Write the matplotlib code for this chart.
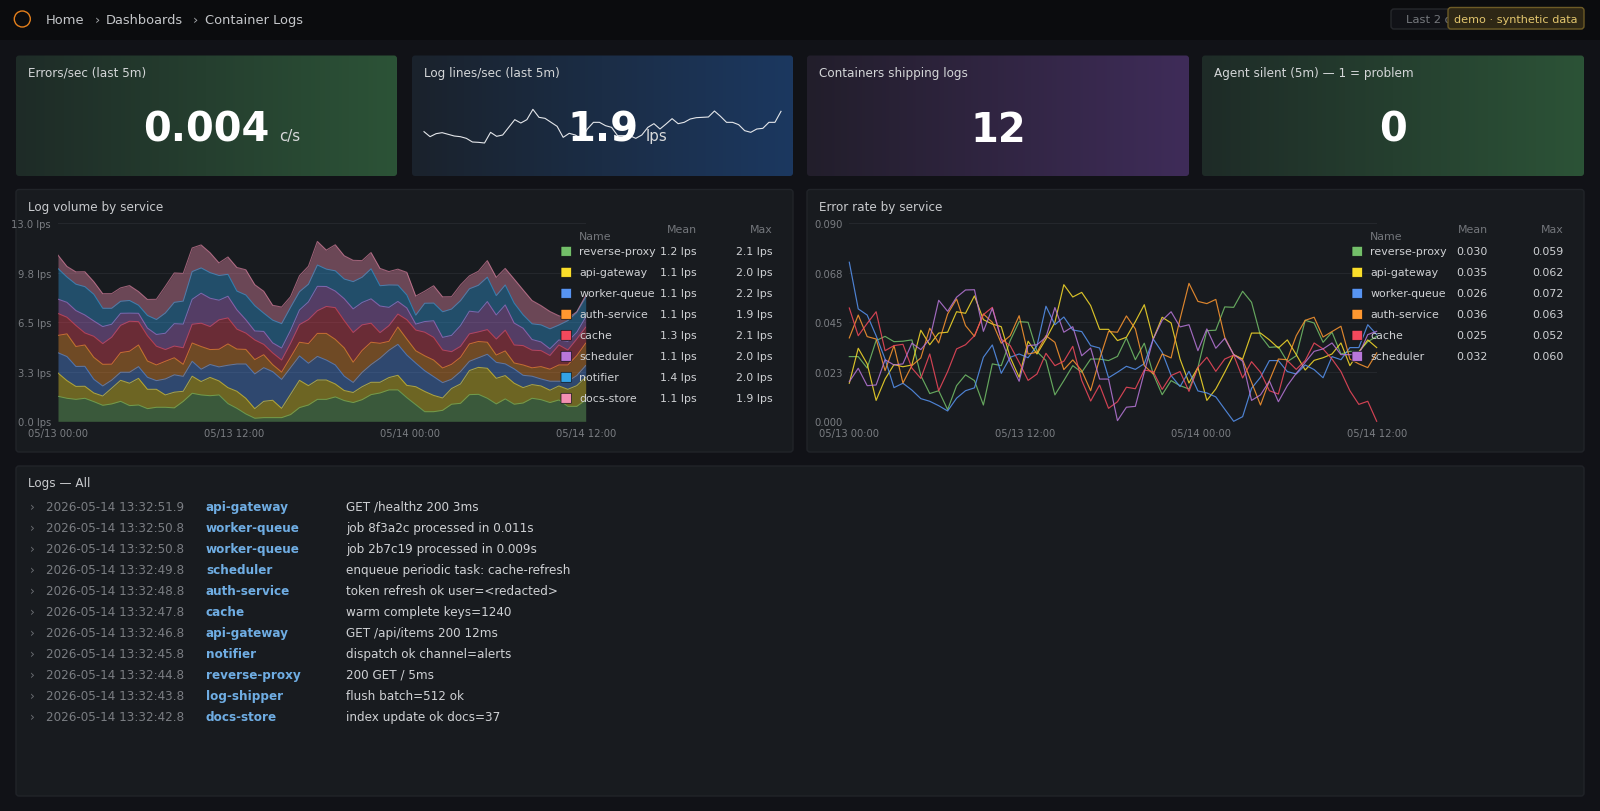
import numpy as np
import pandas as pd
import matplotlib
matplotlib.use("Agg")
import matplotlib.pyplot as plt
from matplotlib.colors import LinearSegmentedColormap
from matplotlib.patches import Circle, FancyBboxPatch

# log volume by service, lps (stacked in this order)
reverse_proxy = [1.64,1.51,1.44,1.51,1.29,1.05,1.14,1.31,1.03,1.07,0.83,0.92,0.92,0.88,1.31,1.84,1.73,1.68,1.73,1.16,0.85,0.48,0.20,0.24,0.24,0.24,0.44,0.90,1.07,1.44,1.44,1.60,1.36,1.23,1.42,1.75,1.86,2.06,2.06,1.55,1.09,0.63,0.63,0.72,1.12,1.18,1.75,1.77,1.51,1.14,1.47,1.12,1.20,1.51,1.42,1.23,1.40,0.98,0.98,1.40]
api_gateway = [1.53,1.16,0.85,0.79,0.57,0.61,1.03,1.38,1.47,1.75,1.27,1.18,0.81,1.03,0.66,1.12,0.88,1.20,0.92,1.05,1.12,1.03,0.63,1.07,1.14,0.61,1.33,1.79,1.27,1.27,1.27,0.85,0.66,0.66,0.85,0.81,0.70,0.81,0.96,0.81,1.18,1.33,1.07,0.81,1.03,1.27,1.58,1.77,1.97,1.68,1.53,1.38,1.01,0.90,0.90,0.81,0.92,1.12,1.36,1.49]
worker_queue = [1.33,1.58,1.31,1.31,0.90,0.66,0.53,0.53,0.72,0.77,0.79,0.57,1.05,1.14,0.98,0.98,0.81,0.85,0.92,1.47,1.79,2.25,2.28,2.21,1.88,1.90,1.75,1.60,1.47,1.55,1.31,1.25,0.94,0.66,0.94,1.16,1.58,1.79,2.03,1.99,1.55,1.36,1.23,1.01,0.61,0.81,0.61,0.63,0.92,1.05,0.77,0.94,0.81,0.55,0.46,0.59,0.31,0.53,0.66,0.77]
auth_service = [1.14,1.49,1.31,1.40,1.44,1.42,1.05,1.29,1.38,1.42,1.07,1.03,1.16,1.12,0.79,1.20,1.49,0.98,1.16,1.40,0.98,0.96,0.94,0.85,0.46,0.48,0.68,0.90,1.29,1.51,1.75,1.68,1.86,1.33,1.44,1.47,0.98,0.59,1.14,1.05,0.81,0.98,1.09,0.96,0.98,0.94,1.14,1.07,0.79,0.48,0.85,0.39,0.68,0.55,0.81,0.79,1.07,1.07,1.31,1.47]
cache = [1.44,1.09,1.38,0.79,1.38,1.36,1.77,1.79,1.97,1.53,1.66,1.23,0.77,0.77,1.09,1.23,1.53,1.51,1.93,1.71,1.31,1.07,1.29,0.68,0.77,0.79,0.92,1.16,1.58,1.49,1.77,2.08,1.79,1.95,1.68,1.25,0.70,1.03,0.85,1.27,1.36,1.55,1.49,1.18,0.83,0.72,0.66,0.63,0.83,1.05,1.36,1.18,1.27,1.16,1.05,0.90,1.31,0.98,1.09,1.05]
scheduler = [0.94,0.98,0.98,1.18,1.01,1.12,0.85,0.79,0.53,0.55,0.50,0.77,1.07,1.47,1.55,1.64,1.97,1.86,1.29,1.42,1.27,0.88,0.59,0.85,0.66,0.79,0.85,0.96,1.16,1.60,1.31,1.09,1.44,1.55,1.47,1.60,1.75,1.20,0.83,0.77,0.39,0.70,1.09,0.83,1.07,1.36,1.49,1.29,1.84,1.58,1.66,1.44,1.14,0.70,0.57,0.44,0.33,0.57,0.44,0.66]
notifier = [2.01,1.66,1.73,1.86,1.75,1.20,1.05,0.79,0.83,0.53,0.83,0.98,1.33,1.40,1.51,1.82,1.66,1.68,1.62,1.44,1.23,1.62,1.66,1.20,1.49,1.60,1.51,1.20,1.16,1.40,1.14,1.33,1.29,1.79,1.66,1.97,1.33,1.47,1.07,0.85,0.59,1.20,1.16,1.68,1.73,1.64,1.47,1.77,1.60,1.27,1.31,1.31,0.88,1.03,1.12,1.31,0.98,1.36,1.31,1.31]
docs_store = [0.88,0.70,0.81,0.98,0.83,0.96,0.96,0.88,0.98,0.90,1.05,1.33,1.75,1.93,1.82,1.55,1.51,1.31,0.83,1.14,1.55,1.66,1.38,1.44,0.98,1.09,0.70,1.05,1.18,1.55,1.25,1.71,1.53,1.40,1.09,1.07,1.14,0.88,1.05,1.49,1.25,0.79,1.14,0.98,0.81,1.03,0.85,0.92,1.09,1.20,1.09,1.58,1.64,1.53,1.27,1.14,0.61,0.15,0.04,0.11]

# error rate by service
err_reverse_proxy = [.0294,.0294,.0242,.0367,.0386,.0362,.0364,.0370,.0208,.0126,.0139,.0053,.0162,.0211,.0185,.0074,.0261,.0253,.0367,.0453,.0450,.0317,.0276,.0120,.0185,.0253,.0223,.0283,.0283,.0276,.0295,.0379,.0280,.0355,.0215,.0121,.0185,.0162,.0147,.0245,.0412,.0414,.0520,.0518,.0591,.0541,.0389,.0336,.0339,.0271,.0298,.0459,.0447,.0359,.0405,.0306,.0318,.0317,.0362,.0386]
err_api_gateway = [.0173,.0332,.0261,.0095,.0192,.0258,.0248,.0256,.0414,.0348,.0401,.0405,.0498,.0491,.0570,.0462,.0442,.0430,.0291,.0200,.0364,.0306,.0374,.0450,.0621,.0565,.0586,.0526,.0418,.0418,.0367,.0382,.0453,.0530,.0374,.0473,.0447,.0283,.0174,.0245,.0095,.0147,.0223,.0303,.0283,.0401,.0401,.0370,.0333,.0370,.0303,.0233,.0277,.0289,.0306,.0356,.0253,.0314,.0370,.0335]
err_worker_queue = [.0723,.0511,.0483,.0389,.0283,.0153,.0173,.0142,.0103,.0091,.0071,.0047,.0105,.0139,.0152,.0291,.0347,.0218,.0291,.0306,.0289,.0344,.0523,.0439,.0474,.0415,.0408,.0344,.0333,.0198,.0223,.0250,.0236,.0262,.0374,.0314,.0208,.0158,.0227,.0138,.0129,.0111,.0055,.0000,.0021,.0150,.0200,.0276,.0276,.0226,.0215,.0256,.0235,.0198,.0294,.0280,.0335,.0335,.0439,.0394]
err_auth_service = [.0379,.0483,.0385,.0374,.0230,.0344,.0174,.0253,.0288,.0423,.0356,.0488,.0556,.0435,.0386,.0488,.0450,.0355,.0389,.0480,.0306,.0314,.0389,.0359,.0235,.0279,.0230,.0139,.0283,.0408,.0405,.0479,.0420,.0253,.0215,.0306,.0288,.0465,.0627,.0545,.0535,.0554,.0382,.0303,.0280,.0177,.0074,.0185,.0283,.0280,.0389,.0459,.0473,.0383,.0408,.0432,.0283,.0261,.0244,.0311]
err_cache = [.0515,.0389,.0445,.0498,.0321,.0344,.0350,.0242,.0195,.0306,.0139,.0226,.0329,.0348,.0389,.0485,.0518,.0374,.0344,.0268,.0186,.0215,.0309,.0253,.0273,.0341,.0186,.0092,.0165,.0059,.0089,.0155,.0148,.0233,.0226,.0145,.0208,.0226,.0136,.0245,.0291,.0227,.0283,.0301,.0197,.0271,.0223,.0139,.0124,.0276,.0236,.0276,.0356,.0329,.0283,.0226,.0139,.0077,.0091,.0000]
err_scheduler = [.0180,.0241,.0162,.0165,.0280,.0256,.0261,.0355,.0326,.0374,.0550,.0500,.0564,.0597,.0598,.0409,.0514,.0374,.0268,.0182,.0344,.0348,.0382,.0517,.0405,.0430,.0298,.0333,.0192,.0192,.0003,.0064,.0068,.0223,.0374,.0459,.0498,.0429,.0439,.0321,.0420,.0332,.0377,.0303,.0273,.0095,.0120,.0183,.0089,.0162,.0218,.0268,.0318,.0329,.0356,.0303,.0303,.0303,.0394,.0409]

# sparkline behind the log lines stat
spark_lps = [1.04,.74,.92,.98,.88,.78,.74,.64,.42,.40,.36,1.00,.76,.84,1.30,1.76,1.56,1.76,2.38,1.90,1.84,1.60,1.36,.70,.94,.84,.60,1.20,1.60,1.60,1.40,1.30,.80,.80,.80,.64,.84,1.30,1.52,1.20,1.50,1.82,1.52,1.60,1.80,1.88,1.90,1.92,2.28,1.96,1.60,1.60,1.46,1.10,1.00,1.20,1.24,1.60,1.60,2.26]

volume_names = ["reverse-proxy", "api-gateway", "worker-queue", "auth-service", "cache", "scheduler", "notifier", "docs-store"]
volume_mean = ["1.2 lps", "1.1 lps", "1.1 lps", "1.1 lps", "1.3 lps", "1.1 lps", "1.4 lps", "1.1 lps"]
volume_max = ["2.1 lps", "2.0 lps", "2.2 lps", "1.9 lps", "2.1 lps", "2.0 lps", "2.0 lps", "1.9 lps"]
error_names = volume_names[:6]
error_mean = ["0.030", "0.035", "0.026", "0.036", "0.025", "0.032"]
error_max = ["0.059", "0.062", "0.072", "0.063", "0.052", "0.060"]

x_tick_labels = ["05/13 00:00", "05/13 12:00", "05/14 00:00", "05/14 12:00"]
volume_ticks = [0, 3.25, 6.5, 9.75, 13]
volume_tick_labels = ["0.0 lps", "3.3 lps", "6.5 lps", "9.8 lps", "13.0 lps"]
error_ticks = [0, 0.0225, 0.045, 0.0675, 0.09]
error_tick_labels = ["0.000", "0.023", "0.045", "0.068", "0.090"]

log_times = ["2026-05-14 13:32:51.9", "2026-05-14 13:32:50.8", "2026-05-14 13:32:50.8", "2026-05-14 13:32:49.8", "2026-05-14 13:32:48.8", "2026-05-14 13:32:47.8", "2026-05-14 13:32:46.8", "2026-05-14 13:32:45.8", "2026-05-14 13:32:44.8", "2026-05-14 13:32:43.8", "2026-05-14 13:32:42.8"]
log_services = ["api-gateway", "worker-queue", "worker-queue", "scheduler", "auth-service", "cache", "api-gateway", "notifier", "reverse-proxy", "log-shipper", "docs-store"]
log_messages = ["GET /healthz 200 3ms", "job 8f3a2c processed in 0.011s", "job 2b7c19 processed in 0.009s", "enqueue periodic task: cache-refresh", "token refresh ok user=<redacted>", "warm complete keys=1240", "GET /api/items 200 12ms", "dispatch ok channel=alerts", "200 GET / 5ms", "flush batch=512 ok", "index update ok docs=37"]

colors = ["#73bf69", "#fade2a", "#5794f2", "#ff9830", "#f2495c", "#b877d9", "#33a2e5", "#f48fb1"]

W, H = 1600, 812
times = pd.date_range("2026-05-13 00:00", "2026-05-14 12:00", periods=60)
x_ticks = pd.date_range("2026-05-13 00:00", "2026-05-14 12:00", freq="12h")

fig = plt.figure(figsize=(W / 100, H / 100), dpi=100, facecolor="#111217")


def px(n):
    # css pixels to points
    return n * 0.72


def axes_px(x0, y0, x1, y1, **kw):
    return fig.add_axes([x0 / W, 1 - y1 / H, (x1 - x0) / W, (y1 - y0) / H], **kw)


bg = axes_px(0, 0, W, H, zorder=0)
top = axes_px(0, 0, W, H, zorder=5)
for a in (bg, top):
    a.set_axis_off()
    a.patch.set_alpha(0)


def box(a, x0, y0, x1, y1, fc, ec="none", r=3, lw=1, z=1):
    p = FancyBboxPatch((x0, y0), x1 - x0, y1 - y0, boxstyle=f"round,pad=0,rounding_size={r}",
                       fc=fc, ec=ec, lw=lw, zorder=z)
    a.add_patch(p)
    return p


def label(x, y, s, size, color, **kw):
    # y is the middle of the digits, so rows line up whatever the letters
    if "va" not in kw:
        kw["va"] = "baseline"
        y = y + 0.29 * size
    return top.text(x, y, s, fontsize=px(size), color=color, **kw)


# header
bg.fill_between([0, W], 0, 41, color="#0b0c0e", lw=0, zorder=1)
bg.add_patch(Circle((22.3, 20), 8, fc="none", ec="#e5801c", lw=1.0, zorder=2))
for x, s in [(46, "Home"), (95, "›"), (106, "Dashboards"), (193, "›"), (205, "Container Logs")]:
    label(x, 20, s, 13, "#c4c6c9" if s != "›" else "#a5a7ab")
box(top, 1391, 10, 1560, 30, "#111217", "#26282c", r=3, z=1)
label(1405.5, 20, "Last 2 days", 11.5, "#75787d", zorder=2)
box(top, 1448, 8.5, 1584, 30, "#2e2715", "#6d5b26", r=3, z=3)
label(1516, 19.5, "demo · synthetic data", 11.3, "#e3c66e", ha="center", zorder=4)

# stat cards
cards = [
    (16, 397, "Errors/sec (last 5m)", "0.004", "c/s", "#1e2b27", "#2c5337"),
    (412, 793, "Log lines/sec (last 5m)", "1.9", "lps", "#1a222c", "#1c3860"),
    (807, 1189, "Containers shipping logs", "12", "", "#221e2b", "#3f2c59"),
    (1202, 1584, "Agent silent (5m) — 1 = problem", "0", "", "#1e2b27", "#2c5337"),
]
card_units_x = {"c/s": 279, "lps": 646}
grad = np.linspace(0, 1, 256).reshape(1, -1)
for x0, x1, title, value, unit, c0, c1 in cards:
    clip = box(bg, x0, 56.5, x1, 177, "none", z=1)
    im = bg.imshow(grad, extent=(x0, x1, 177, 56.5), aspect="auto", zorder=2,
                   cmap=LinearSegmentedColormap.from_list("card", [c0, c1]))
    im.set_clip_path(clip)
    label(x0 + 12, 73.5, title, 12, "#d4d6d8")
    label((x0 + x1) / 2, 142, value, 40, "#ffffff", ha="center", va="baseline", fontweight="bold")
    if unit:
        label(card_units_x[unit], 141.5, unit, 15, "#d9dadb", va="baseline")

spark = axes_px(424, 110, 781, 150, zorder=2)
spark.set_axis_off()
spark.patch.set_alpha(0)
spark.plot(range(len(spark_lps)), spark_lps, color="#e4e6ea", lw=0.8, clip_on=False)
spark.set_xlim(0, len(spark_lps) - 1)
spark.set_ylim(0, 2.4)

# panels
box(bg, 16, 190.5, 793, 453, "#181b1f", "#212429", z=1)
box(bg, 807, 190.5, 1584, 453, "#181b1f", "#212429", z=1)
box(bg, 16, 467, 1584, 797, "#181b1f", "#212429", z=1)
label(28, 207.3, "Log volume by service", 12, "#c8cacd")
label(819, 207.3, "Error rate by service", 12, "#c8cacd")
label(28, 483.5, "Logs — All", 12, "#c8cacd")


def style_axis(a, ticks, tick_labels, ymax):
    a.patch.set_alpha(0)
    for s in a.spines.values():
        s.set_visible(False)
    a.set_xlim(times[0], times[-1])
    a.set_ylim(0, ymax)
    a.set_xticks(x_ticks)
    a.set_xticklabels(x_tick_labels)
    a.set_yticks(ticks)
    a.set_yticklabels(tick_labels)
    a.tick_params(length=0, labelsize=px(10), labelcolor="#7a7d82", pad=5)
    a.tick_params(axis="x", pad=4.5)
    for t in a.get_yticklabels():
        t.set_verticalalignment("center_baseline")
    a.grid(axis="y", color="#24272c", lw=0.8)
    a.set_axisbelow(True)


# log volume, stacked
vol = axes_px(58, 224.3, 585.7, 422.3, zorder=3)
series = [reverse_proxy, api_gateway, worker_queue, auth_service, cache, scheduler, notifier, docs_store]
base = np.zeros(len(times))
for vals, c in zip(series, colors):
    upper = base + np.array(vals)
    vol.fill_between(times, base, upper, color=c, alpha=0.38, lw=0)
    vol.plot(times, upper, color=c, lw=0.75, alpha=0.6)
    base = upper
style_axis(vol, volume_ticks, volume_tick_labels, 13)

# error rate, lines
err = axes_px(849.3, 224.3, 1376.7, 422.3, zorder=3)
err_series = [err_reverse_proxy, err_api_gateway, err_worker_queue, err_auth_service, err_cache, err_scheduler]
for vals, c in zip(err_series, colors):
    err.plot(times, vals, color=c, lw=0.85, alpha=0.85, clip_on=False)
style_axis(err, error_ticks, error_tick_labels, 0.09)


def legend(names, means, maxes, sw_x, name_x, mean_x, max_x):
    label(name_x, 236.7, "Name", 11, "#73767b")
    label(mean_x, 230, "Mean", 11, "#73767b", ha="right")
    label(max_x, 230, "Max", 11, "#73767b", ha="right")
    for i, name in enumerate(names):
        y = 252.3 + 21 * i
        box(top, sw_x, y - 5, sw_x + 10.5, y + 5, colors[i], "#111217", r=0.5, lw=0.5, z=4)
        label(name_x, y, name, 11, "#cfd1d4", zorder=5)
        label(mean_x, y, means[i], 11, "#cfd1d4", ha="right")
        label(max_x, y, maxes[i], 11, "#cfd1d4", ha="right")


legend(volume_names, volume_mean, volume_max, 561, 579.3, 696.7, 772.7)
legend(error_names, error_mean, error_max, 1352, 1370.3, 1487.7, 1563.7)

# log rows
for i in range(len(log_times)):
    y = 507.3 + 21 * i
    label(30, y, "›", 12, "#6c6f74")
    label(46, y, log_times[i], 12, "#7a7d82")
    label(206, y, log_services[i], 12, "#6fade3", fontweight="bold")
    label(346, y, log_messages[i], 12, "#cfd1d4")

for a in (bg, top):
    a.set_xlim(0, W)
    a.set_ylim(H, 0)

fig.savefig("out.png", dpi=100, facecolor=fig.get_facecolor())
